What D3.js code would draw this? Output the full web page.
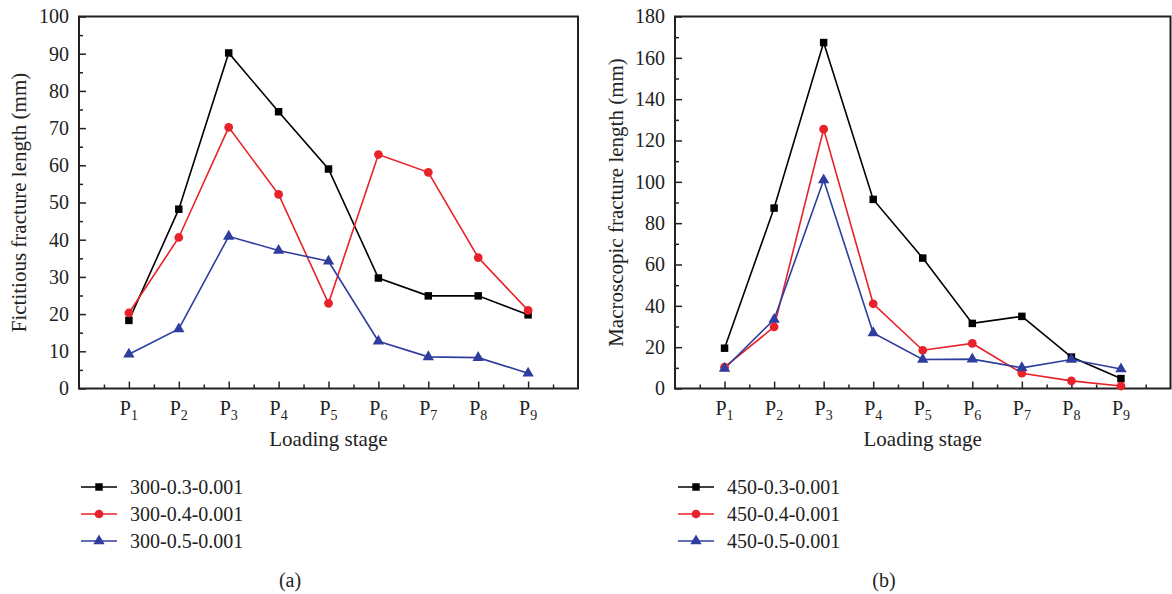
<!DOCTYPE html>
<html><head><meta charset="utf-8">
<script src="https://cdn.jsdelivr.net/npm/d3@7"></script>
<style>body{margin:0;background:#fff}svg{display:block}text{font-family:"Liberation Serif","Times New Roman",serif;fill:#222}</style>
</head><body><svg id="c" width="1172" height="594"></svg>
<script>
const stages = ["1","2","3","4","5","6","7","8","9"];
const seriesNamesA = ["300-0.3-0.001","300-0.4-0.001","300-0.5-0.001"];
const seriesNamesB = ["450-0.3-0.001","450-0.4-0.001","450-0.5-0.001"];
const a_03 = [18.3,48.2,90.2,74.4,59.0,29.7,24.9,24.9,19.8];
const a_04 = [20.3,40.6,70.2,52.2,22.9,62.9,58.1,35.2,21.0];
const a_05 = [9.2,16.0,40.9,37.1,34.2,12.7,8.5,8.3,4.1];
const b_03 = [19.5,87.3,167.4,91.5,63.1,31.5,34.9,15.2,4.8];
const b_04 = [10.3,29.8,125.5,41.0,18.5,21.8,7.4,3.7,1.2];
const b_05 = [9.7,33.4,100.9,26.9,14.0,14.2,10.0,14.0,9.4];
const yTicksA = [0,10,20,30,40,50,60,70,80,90,100];
const yTicksB = [0,20,40,60,80,100,120,140,160,180];
const colors = ["#000000","#e8222a","#2f3e9e"];
const symbols = [d3.symbolSquare, d3.symbolCircle, d3.symbolTriangle];
const symSizes = [56, 60, 56];

const svg = d3.select("#c");

function panel(o){
  const x = d3.scaleLinear().domain([0,10]).range([o.left,o.right]);
  const y = d3.scaleLinear().domain([0,o.ymax]).range([o.bottom,o.top]);
  const g = svg.append("g");
  g.append("g").attr("transform",`translate(0,${o.bottom})`)
    .call(d3.axisBottom(x).tickValues(d3.range(0.5,10,1)).tickSize(-4).tickFormat(""))
    .call(s=>s.select(".domain").remove()).selectAll("line").attr("stroke","#222").attr("stroke-width",1.5);
  g.append("g").attr("transform",`translate(0,${o.bottom})`)
    .call(d3.axisBottom(x).tickValues(d3.range(1,10)).tickSize(-7).tickFormat(""))
    .call(s=>s.select(".domain").remove()).selectAll("line").attr("stroke","#222").attr("stroke-width",1.5);
  g.append("g").attr("transform",`translate(${o.left},0)`)
    .call(d3.axisLeft(y).tickValues(d3.range(o.ystep/2,o.ymax,o.ystep)).tickSize(-4).tickFormat(""))
    .call(s=>s.select(".domain").remove()).selectAll("line").attr("stroke","#222").attr("stroke-width",1.5);
  const ya = g.append("g").attr("transform",`translate(${o.left},0)`)
    .call(d3.axisLeft(y).tickValues(o.yticks).tickSize(-7).tickPadding(10).tickFormat(d3.format("d")));
  ya.select(".domain").remove();
  ya.selectAll("line").attr("stroke","#222").attr("stroke-width",1.5);
  ya.selectAll("text").attr("font-size",20).attr("font-family","Liberation Serif").attr("fill","#222");
  g.append("rect").attr("x",o.left).attr("y",o.top).attr("width",o.right-o.left).attr("height",o.bottom-o.top)
    .attr("fill","none").attr("stroke","#222").attr("stroke-width",2);
  const xl = g.append("g").selectAll("text").data(stages).join("text")
    .attr("x",(d,i)=>x(i+1)).attr("y",o.bottom+26).attr("text-anchor","middle").attr("font-size",20);
  xl.append("tspan").text("P");
  xl.append("tspan").attr("font-size",14).attr("dy",5).text(d=>d);
  g.append("text").attr("x",(o.left+o.right)/2).attr("y",o.bottom+57).attr("text-anchor","middle")
    .attr("font-size",21).text("Loading stage");
  g.append("text").attr("transform",`translate(${o.ytx},${(o.top+o.bottom)/2}) rotate(-90)`)
    .attr("text-anchor","middle").attr("dy","0.35em").attr("font-size",21).text(o.ytitle);
  const line = d3.line().x((d,i)=>x(i+1)).y(d=>y(d));
  o.data.forEach((ser,k)=>{
    g.append("path").datum(ser).attr("d",line).attr("fill","none").attr("stroke",colors[k]).attr("stroke-width",1.6);
  });
  o.data.forEach((ser,k)=>{
    g.append("g").selectAll("path").data(ser).join("path")
      .attr("transform",(d,i)=>`translate(${x(i+1)},${y(d)})`)
      .attr("d",d3.symbol(symbols[k],symSizes[k])).attr("fill",colors[k]);
  });
  const lg = g.append("g");
  o.names.forEach((n,k)=>{
    const yy = 487 + k*27;
    lg.append("line").attr("x1",o.legX).attr("x2",o.legX+36).attr("y1",yy).attr("y2",yy).attr("stroke",colors[k]).attr("stroke-width",1.4);
    lg.append("path").attr("transform",`translate(${o.legX+18},${yy})`).attr("d",d3.symbol(symbols[k],symSizes[k])).attr("fill",colors[k]);
    lg.append("text").attr("x",o.legX+49).attr("y",yy).attr("dy","0.35em").attr("font-size",20).text(n);
  });
  g.append("text").attr("x",o.capX).attr("y",580).attr("dy","0.35em").attr("text-anchor","middle").attr("font-size",20).text(o.cap);
}

panel({left:79,right:578,top:16.5,bottom:388.5,ymax:100,ystep:10,yticks:yTicksA,data:[a_03,a_04,a_05],
  names:seriesNamesA,ytitle:"Fictitious fracture length (mm)",ytx:19,legX:81,capX:290,cap:"(a)"});
panel({left:675,right:1170.5,top:16.5,bottom:388.5,ymax:180,ystep:20,yticks:yTicksB,data:[b_03,b_04,b_05],
  names:seriesNamesB,ytitle:"Macroscopic fracture length (mm)",ytx:616,legX:678,capX:884,cap:"(b)"});
</script></body></html>
